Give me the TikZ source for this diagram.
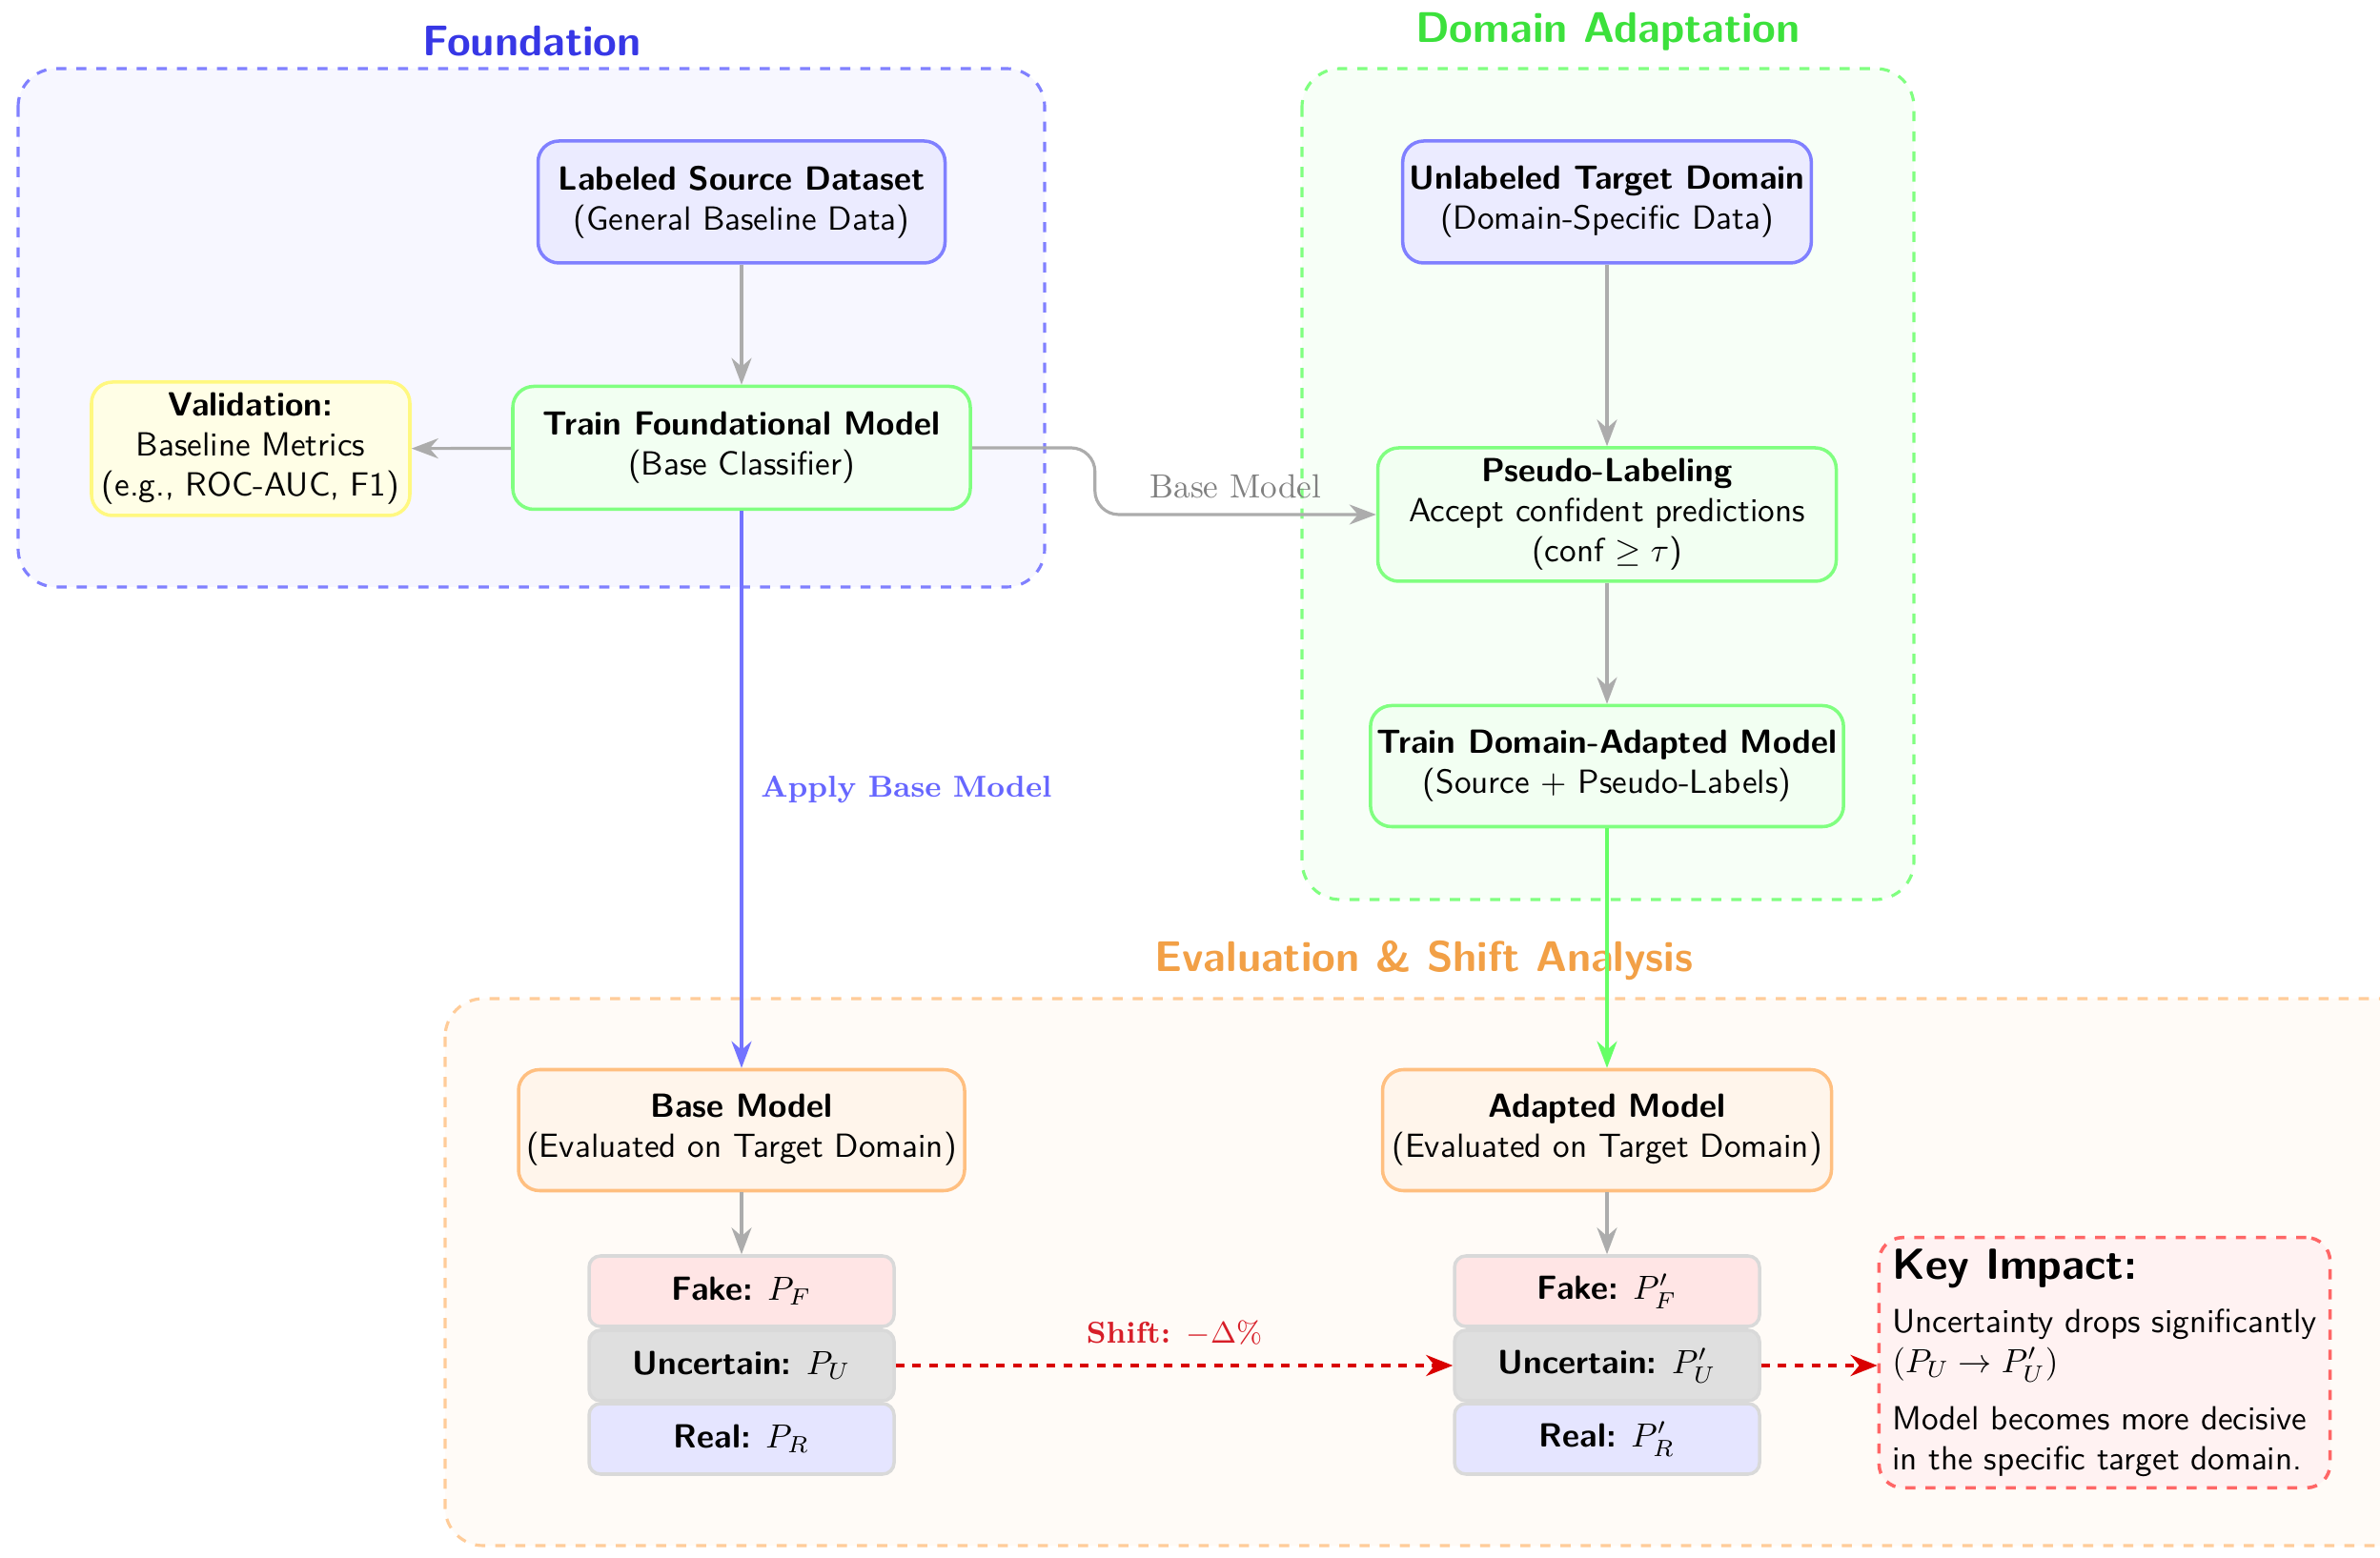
\documentclass[tikz,border=0pt]{standalone}
\usetikzlibrary{arrows.meta,positioning,calc}
\definecolor{titleblue}{RGB}{55,55,230}
\definecolor{titlegreen}{RGB}{60,225,60}
\definecolor{titleorange}{RGB}{242,160,70}
\definecolor{shiftred}{RGB}{215,30,40}
\tikzset{
  region/.style={draw, dashed, rounded corners=0.4cm, line width=0.9pt},
  regtitle/.style={font=\sffamily\bfseries\fontsize{12.8}{15}\selectfont},
  box/.style={draw, rounded corners=0.22cm, line width=1pt, align=center, font=\sffamily, inner sep=2pt},
  stackbox/.style={draw=gray!30, rounded corners=0.12cm, line width=1pt, font=\sffamily, minimum width=3.2cm, minimum height=0.74cm, inner sep=1pt},
  arr/.style={-{Stealth[length=2.8mm,width=2.1mm,inset=0.9mm]}, line width=0.9pt, draw=gray!65},
  redarr/.style={-{Stealth[length=2.8mm,width=2.2mm,inset=0.9mm]}, line width=1.2pt, draw=red!85!black, dashed, dash pattern=on 2.6pt off 2.4pt},
}
\begin{document}
\begin{tikzpicture}
\clip (0,0) rectangle (24.97,-16.35);
\fill[white] (0,0) rectangle (24.97,-16.35);

% regions
\draw[region, draw=blue!50, fill=blue!3] (0.19,-0.72) rectangle (10.96,-6.16);
\draw[region, draw=green!50, fill=green!3] (13.66,-0.72) rectangle (20.08,-9.44);
\draw[region, draw=orange!40, fill=orange!3] (4.67,-10.48) rectangle (25.4,-16.22);

\node[regtitle, text=titleblue] (tF) at (5.58,-0.43) {Foundation};
\node[regtitle, text=titlegreen] (tD) at (16.87,-0.33) {Domain Adaptation};
\node[regtitle, text=titleorange] (tE) at (14.94,-10.08) {Evaluation \& Shift Analysis};

% foundation nodes
\node[box, fill=blue!8, draw=blue!50, minimum width=4.27cm, minimum height=1.28cm] (src) at (7.78,-2.12)
  {\textbf{Labeled Source Dataset}\\(General Baseline Data)};
\node[box, fill=green!5, draw=green!50, minimum width=4.8cm, minimum height=1.29cm] (trainF) at (7.78,-4.70)
  {\textbf{Train Foundational Model}\\(Base Classifier)};
\node[box, fill=yellow!10, draw=yellow!50, minimum width=3.34cm, minimum height=1.40cm] (val) at (2.63,-4.71)
  {\textbf{Validation:}\\Baseline Metrics\\(e.g., ROC-AUC, F1)};

% domain adaptation nodes
\node[box, fill=blue!8, draw=blue!50, minimum width=4.27cm, minimum height=1.28cm] (unl) at (16.86,-2.12)
  {\textbf{Unlabeled Target Domain}\\(Domain-Specific Data)};
\node[box, fill=green!5, draw=green!50, minimum width=4.81cm, minimum height=1.40cm] (pseudo) at (16.86,-5.40)
  {\textbf{Pseudo-Labeling}\\Accept confident predictions\\(conf $\geq \tau$)};
\node[box, fill=green!5, draw=green!50, minimum width=4.87cm, minimum height=1.27cm] (trainDA) at (16.86,-8.04)
  {\textbf{Train Domain-Adapted Model}\\(Source + Pseudo-Labels)};

% evaluation nodes
\node[box, fill=orange!8, draw=orange!50, minimum width=4.68cm, minimum height=1.27cm] (baseE) at (7.78,-11.86)
  {\textbf{Base Model}\\(Evaluated on Target Domain)};
\node[box, fill=orange!8, draw=orange!50, minimum width=4.71cm, minimum height=1.27cm] (adaE) at (16.86,-11.86)
  {\textbf{Adapted Model}\\(Evaluated on Target Domain)};

\node[stackbox, fill=red!10] (fake) at (7.78,-13.55) {\textbf{Fake:} $P_F$};
\node[stackbox, fill=gray!25] (unc) at (7.78,-14.33) {\textbf{Uncertain:} $P_U$};
\node[stackbox, fill=blue!10] (real) at (7.78,-15.10) {\textbf{Real:} $P_R$};

\node[stackbox, fill=red!10] (fake2) at (16.86,-13.55) {\textbf{Fake:} $P'_F$};
\node[stackbox, fill=gray!25] (unc2) at (16.86,-14.33) {\textbf{Uncertain:} $P'_U$};
\node[stackbox, fill=blue!10] (real2) at (16.86,-15.10) {\textbf{Real:} $P'_R$};

\node[draw=red!60, dashed, fill=red!5, rounded corners=0.25cm, line width=1pt, font=\sffamily, align=left,
      minimum width=4.65cm, minimum height=2.58cm, inner xsep=0.14cm] (key) at (22.08,-14.30)
  {{\fontsize{13}{15}\selectfont\bfseries Key Impact:}\\[4pt]
   Uncertainty drops significantly\\
   $(P_U \rightarrow P'_U)$\\[5pt]
   Model becomes more decisive\\
   in the specific target domain.};

% connectors
\draw[arr] (src) -- (trainF);
\draw[arr] (trainF) -- (val);
\draw[arr, rounded corners=0.25cm] (trainF.east) -- ++(1.29,0) |- (pseudo.west)
  node[pos=0.75, above=1pt, text=gray, font=\normalsize] {Base Model};
\draw[arr] (unl) -- (pseudo);
\draw[arr] (pseudo) -- (trainDA);
\draw[arr, draw=blue!55] (trainF.south) -- (baseE.north)
  node[pos=0.5, right=2pt, text=blue!60, font=\small\bfseries] {Apply Base Model};
\draw[arr, draw=green!60] (trainDA.south) -- (adaE.north);
\draw[arr] (baseE) -- (fake);
\draw[arr] (adaE) -- (fake2);
\draw[redarr] (unc.east) -- (unc2.west)
  node[midway, above=2pt, text=shiftred, font=\small\bfseries] {Shift: $-\Delta\%$};
\draw[redarr] (unc2.east) -- (key.west |- unc2.east);
\end{tikzpicture}
\end{document}
